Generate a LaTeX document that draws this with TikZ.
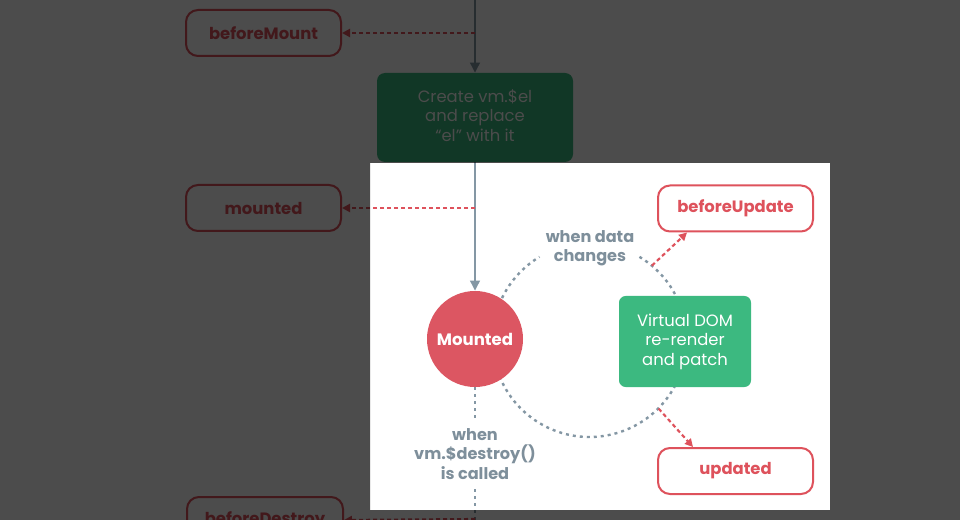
\documentclass[tikz,border=0pt]{standalone}
\usepackage{fontspec}
\setmainfont{Poppins}
\usetikzlibrary{arrows.meta,calc}
\definecolor{vred}{HTML}{DE525C}
\definecolor{vcirc}{HTML}{DC5662}
\definecolor{vgreen}{HTML}{3CB980}
\definecolor{vgray}{HTML}{8497A4}
\definecolor{vlabel}{HTML}{7E8F9B}
\begin{document}
\begin{tikzpicture}[x=0.75pt,y=-0.75pt,
  hook/.style={draw=vred, line width=1.5pt, rounded corners=9pt, minimum width=116.25pt, minimum height=34.5pt, text=vred, fill=white, font=\fontsize{12.3}{14}\selectfont\bfseries},
  greenbox/.style={fill=vgreen, rounded corners=5pt, text=white, align=center, font=\fontsize{12.3}{14.7}\selectfont},
  gline/.style={draw=vgray, line width=1.9pt},
  garrow/.style={gline, -{Triangle[length=7.5pt,width=7pt]}},
  rdash/.style={draw=vred, line width=1.6pt, dash pattern=on 3pt off 2.25pt, -{Triangle[length=6pt,width=6pt]}},
  gdash/.style={draw=vgray, line width=1.8pt, dash pattern=on 2.25pt off 3pt},
  lbl/.style={text=vlabel, align=center, font=\fontsize{12.1}{14.4}\selectfont\bfseries, fill=white, inner sep=1pt}
]
\useasboundingbox (0,0) rectangle (960,520);
\fill[white] (0,0) rectangle (960,520);

% coordinates
\coordinate (top) at (475,0);
\coordinate (c) at (589.5,340);
\coordinate (jbm) at (475,33);
\coordinate (jm) at (475,208);
\coordinate (d1) at (475,421);
\coordinate (d2) at (475,489);
\coordinate (jbd) at (475,519);
\coordinate (bot) at (475,520);
\coordinate (bus) at (651.9,265.7);
\coordinate (ups) at (658.6,408.6);

% the update cycle
\draw[gdash] (c) ++(59:72.75pt) arc[start angle=59, end angle=-239, radius=72.75pt];

% nodes
\node[hook] (beforeMount) at (263.5,33) {beforeMount};
\node[hook] (mounted) at (263.5,208) {mounted};
\node[hook, minimum width=117pt] (beforeDestroy) at (265,520) {beforeDestroy};
\node[hook] (beforeUpdate) at (735.5,208.5) {beforeUpdate};
\node[hook] (updated) at (735.5,471) {updated};
\node[greenbox, minimum width=147pt, minimum height=66.75pt, rounded corners=6pt] (create) at (475,117.5) {};
\node[text=white, align=center, font=\fontsize{12.3}{14.7}\selectfont] (createtext) at (475,115.5) {Create vm.\$el\\and replace\\“el” with it};
\node[greenbox, minimum width=99pt, minimum height=68.25pt] (vdom) at (685,341.5) {Virtual DOM\\re-render\\and patch};
\node[circle, fill=vcirc, minimum size=72pt, inner sep=0pt, text=white, font=\fontsize{12.4}{14}\selectfont\bfseries] (Mounted) at (475,339) {Mounted};
\node[lbl] (whendata) at (590,248.5) {when data\\changes};
\node[lbl] (whendestroy) at (475,454) {when\\vm.\$destroy()\\is called};

% connectors
\draw[garrow] (top) -- (create.north);
\draw[garrow] (create.south) -- (Mounted.north);
\draw[rdash] (jbm) -- (beforeMount.east);
\draw[rdash] (jm) -- (mounted.east);
\draw[gdash] (Mounted.south) -- (d1);
\draw[gdash] (d2) -- (bot);
\draw[rdash] (jbd) -- (beforeDestroy.east);
\draw[rdash] (bus) -- ([xshift=22.5pt]beforeUpdate.south west);
\draw[rdash] (ups) -- ([xshift=27pt]updated.north west);

% dimming overlay outside the highlighted panel
\fill[black, opacity=0.7, even odd rule] (0,0) rectangle (960,520) (370,163) rectangle (830,510);
\end{tikzpicture}
\end{document}
